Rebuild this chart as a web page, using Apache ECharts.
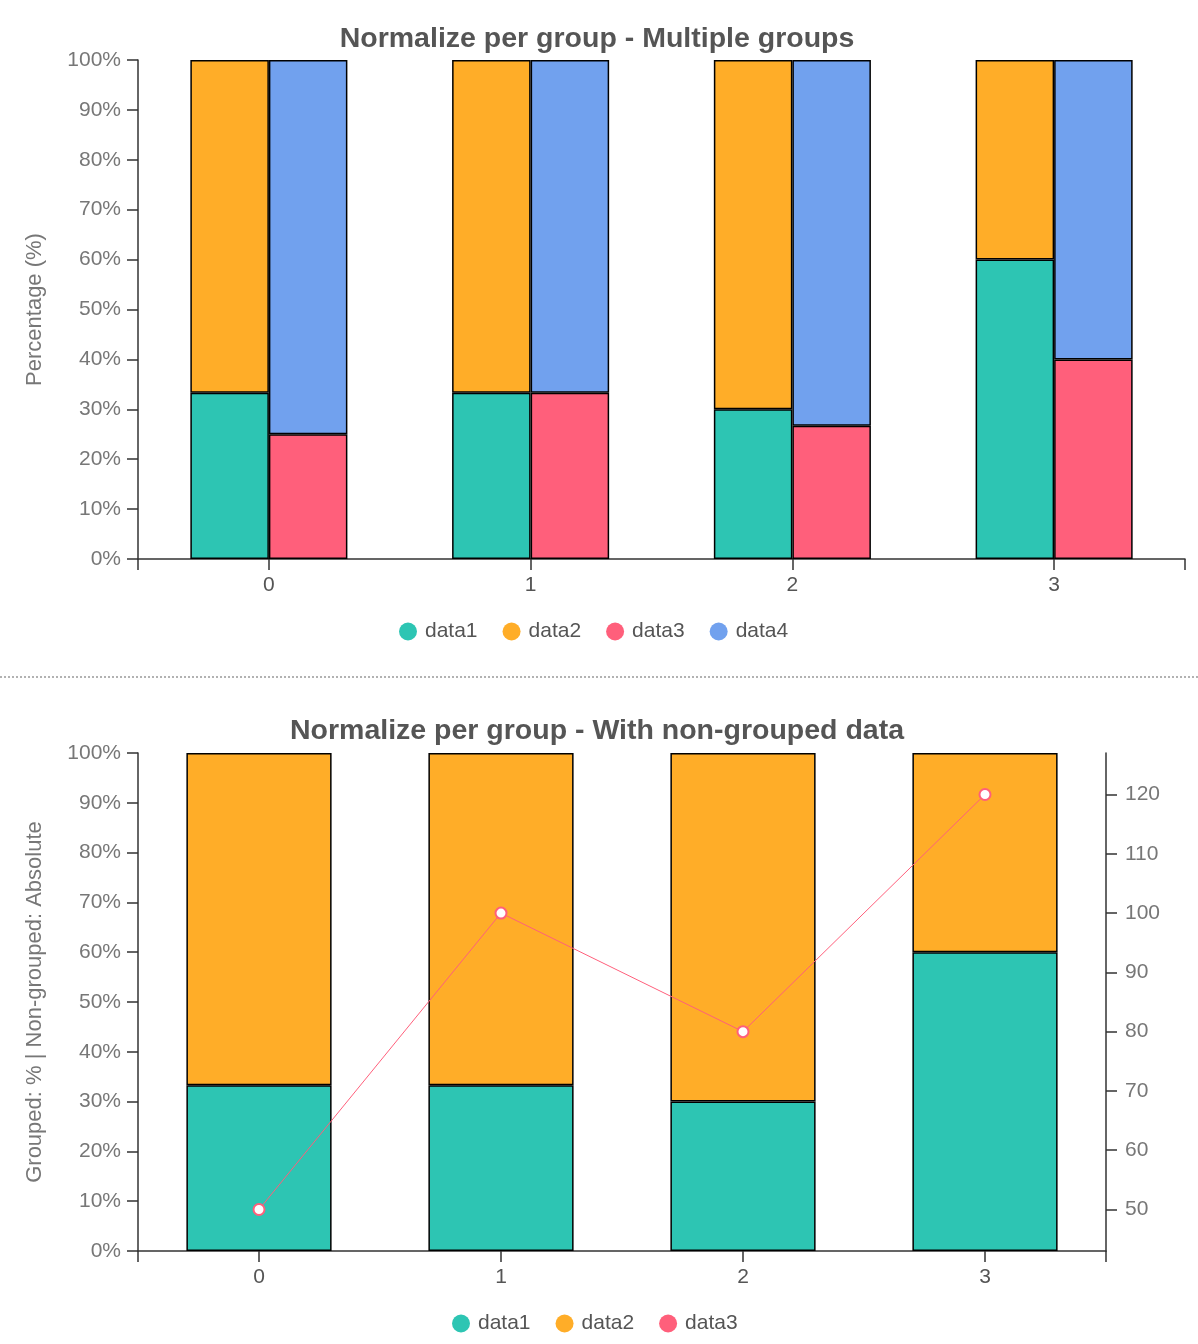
<!DOCTYPE html>
<html>
<head>
<meta charset="utf-8">
<script src="https://cdn.jsdelivr.net/npm/echarts@6/dist/echarts.min.js"></script>
<style>
  html, body { margin: 0; padding: 0; background: #fff; }
  #main { width: 1198px; height: 1344px; }
</style>
</head>
<body>
<div id="main"></div>
<script>
  const categories = ["0", "1", "2", "3"];

  // top chart: shares per group (%)
  const topData1 = [33.3, 33.3, 30, 60];
  const topData2 = [66.7, 66.7, 70, 40];
  const topData3 = [25, 33.3, 26.7, 40];
  const topData4 = [75, 66.7, 73.3, 60];

  // bottom chart: grouped shares (%) and absolute line values
  const botData1 = [33.3, 33.3, 30, 60];
  const botData2 = [66.7, 66.7, 70, 40];
  const botData3 = [50, 100, 80, 120];

  const COLORS = {
    data1: "#2dc5b3",
    data2: "#ffad28",
    data3: "#ff5f7b",
    data4: "#71a1ee",
  };
  const FONT = "Liberation Sans, Arial, sans-serif";
  const axisLine = { show: true, lineStyle: { color: "#333", width: 1.5 } };
  const axisTick = { show: true, length: 11, lineStyle: { color: "#333", width: 1.5 } };

  const chart = echarts.init(document.getElementById("main"));

  const pctAxis = (gridIndex, name) => ({
    type: "value",
    gridIndex,
    min: 0,
    max: 100,
    interval: 10,
    name,
    nameLocation: "middle",
    nameGap: 92,
    nameTextStyle: { color: "#777", fontSize: 22, fontFamily: FONT },
    axisLine,
    axisTick,
    splitLine: { show: false },
    axisLabel: { formatter: "{value}%", color: "#777", fontSize: 21, fontFamily: FONT, margin: 17 },
  });

  const catAxis = (gridIndex) => ({
    type: "category",
    gridIndex,
    data: categories,
    axisLine,
    axisTick: { ...axisTick, alignWithLabel: true },
    axisLabel: { color: "#555", fontSize: 21, fontFamily: FONT, margin: 16 },
  });

  // only the two outer end ticks
  const endTickAxis = (gridIndex) => ({
    type: "category",
    gridIndex,
    data: categories,
    position: "bottom",
    axisLine: { show: false },
    axisLabel: { show: false },
    axisTick: { ...axisTick, interval: (i) => i === 0 },
  });

  const barItem = (name) => ({
    color: COLORS[name],
    borderColor: "#000",
    borderWidth: 1.5,
  });

  const legendBase = {
    icon: "circle",
    itemWidth: 18,
    itemHeight: 18,
    itemGap: 25,
    itemStyle: { borderWidth: 0 },
    textStyle: { color: "#555", fontSize: 21, fontFamily: FONT, padding: [0, 0, 0, 3] },
  };

  const option = {
    animation: false,
    textStyle: { fontFamily: FONT },
    title: [
      {
        text: "Normalize per group - Multiple groups",
        left: 592,
        textAlign: "center",
        top: 20,
        textStyle: { color: "#555", fontSize: 28.5, fontWeight: "bold", fontFamily: FONT },
      },
      {
        text: "Normalize per group - With non-grouped data",
        left: 592,
        textAlign: "center",
        top: 712,
        textStyle: { color: "#555", fontSize: 28.5, fontWeight: "bold", fontFamily: FONT },
      },
    ],
    legend: [
      {
        ...legendBase,
        data: ["data1", "data2", "data3", "data4"],
        left: 394,
        top: 616,
      },
      {
        ...legendBase,
        data: ["data1", "data2", { name: "data3", itemStyle: { color: COLORS.data3, borderWidth: 0 } }],
        left: 447,
        top: 1308,
      },
    ],
    graphic: [
      {
        type: "line",
        shape: { x1: 0, y1: 677, x2: 1198, y2: 677 },
        style: { stroke: "#999", lineWidth: 1.5, lineDash: [2, 2] },
      },
    ],
    grid: [
      { left: 138, top: 60, right: 13, height: 499, outerBoundsMode: "none" },
      { left: 138, top: 753, right: 92, height: 498, outerBoundsMode: "none" },
    ],
    xAxis: [catAxis(0), endTickAxis(0), catAxis(1), endTickAxis(1)],
    yAxis: [
      pctAxis(0, "Percentage (%)"),
      pctAxis(1, "Grouped: % | Non-grouped: Absolute"),
      {
        type: "value",
        gridIndex: 1,
        position: "right",
        min: 43,
        max: 127,
        splitNumber: 8,
        axisLine,
        axisTick,
        splitLine: { show: false },
        axisLabel: {
          color: "#777",
          fontSize: 21,
          fontFamily: FONT,
          margin: 19,
          showMinLabel: false,
          showMaxLabel: false,
        },
      },
    ],
    series: [
      { name: "data1", type: "bar", stack: "a", xAxisIndex: 0, yAxisIndex: 0, barCategoryGap: "40%", barGap: "0%", itemStyle: barItem("data1"), data: topData1 },
      { name: "data2", type: "bar", stack: "a", xAxisIndex: 0, yAxisIndex: 0, itemStyle: barItem("data2"), data: topData2 },
      { name: "data3", type: "bar", stack: "b", xAxisIndex: 0, yAxisIndex: 0, itemStyle: barItem("data3"), data: topData3 },
      { name: "data4", type: "bar", stack: "b", xAxisIndex: 0, yAxisIndex: 0, itemStyle: barItem("data4"), data: topData4 },

      { name: "data1", type: "bar", stack: "c", xAxisIndex: 2, yAxisIndex: 1, barCategoryGap: "40%", itemStyle: barItem("data1"), data: botData1 },
      { name: "data2", type: "bar", stack: "c", xAxisIndex: 2, yAxisIndex: 1, itemStyle: barItem("data2"), data: botData2 },
      {
        name: "data3",
        type: "line",
        xAxisIndex: 2,
        yAxisIndex: 2,
        symbol: "circle",
        symbolSize: 11,
        color: COLORS.data3,
        lineStyle: { color: COLORS.data3, width: 1 },
        itemStyle: { color: "#fff", borderColor: COLORS.data3, borderWidth: 2 },
        z: 5,
        data: botData3,
      },
    ],
  };

  chart.setOption(option);
</script>
</body>
</html>
